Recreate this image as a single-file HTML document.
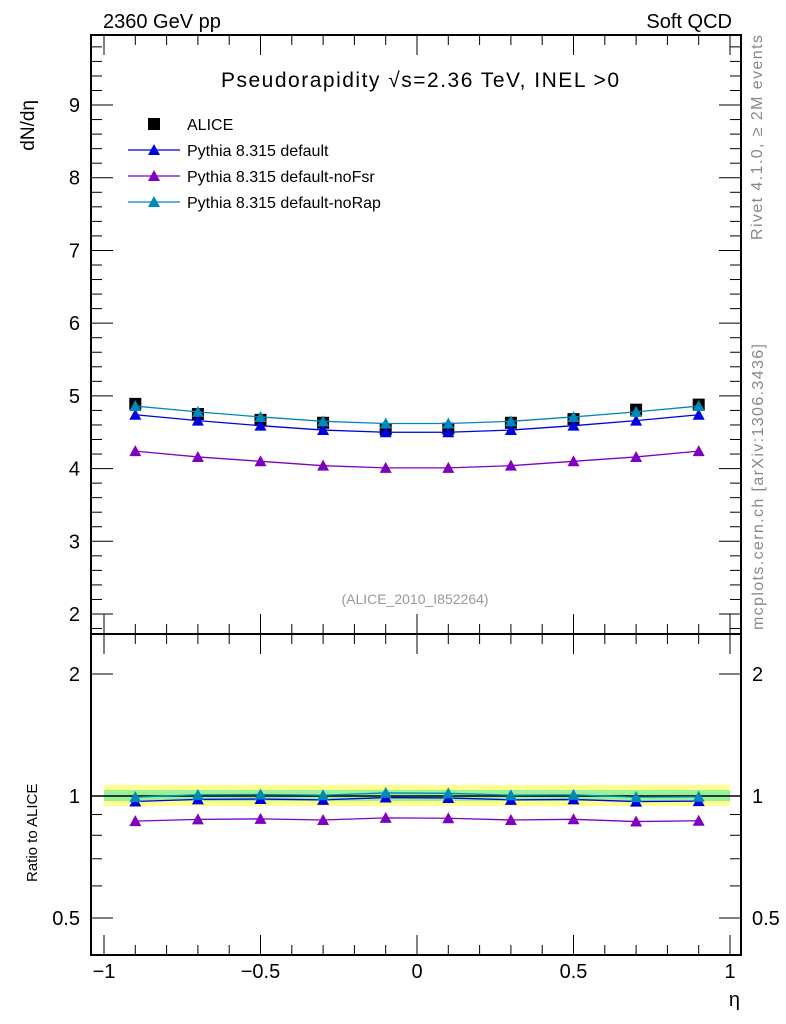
<!DOCTYPE html>
<html><head><meta charset="utf-8"><style>body{margin:0;background:#fff}svg{display:block}text{font-family:"Liberation Sans",sans-serif}</style></head>
<body>
<svg id="s" width="786" height="1024" xmlns="http://www.w3.org/2000/svg">
<rect width="786" height="1024" fill="#fff"/>
<g id="g"></g>
<text x="103" y="28" font-size="20">2360 GeV pp</text>
<text x="732" y="28" font-size="20" text-anchor="end">Soft QCD</text>
<text x="420" y="87" font-size="21" text-anchor="middle" textLength="398">Pseudorapidity √s=2.36 TeV, INEL &gt;0</text>
<text x="415" y="604" font-size="14" fill="#999" text-anchor="middle">(ALICE_2010_I852264)</text>
<text transform="translate(34,100) rotate(-90)" font-size="19" text-anchor="end">dN/dη</text>
<text transform="translate(37,882) rotate(-90)" font-size="15">Ratio to ALICE</text>
<text x="740" y="1006" font-size="20" text-anchor="end">η</text>
<text transform="translate(762,240) rotate(-90)" font-size="16" fill="#888" textLength="205">Rivet 4.1.0, ≥ 2M events</text>
<text transform="translate(763,630) rotate(-90)" font-size="16" fill="#888" textLength="286">mcplots.cern.ch [arXiv:1306.3436]</text>
<text x="187" y="130" font-size="16">ALICE</text>
<text x="187" y="156" font-size="16">Pythia 8.315 default</text>
<text x="187" y="182" font-size="16">Pythia 8.315 default-noFsr</text>
<text x="187" y="208" font-size="16">Pythia 8.315 default-noRap</text>
</svg>
<script>
var g=document.getElementById('g'),h='';
function X(v){return 417+313*v}
function Y(v){return 614-(v-2)*72.71}
function R(r){return 796-122*Math.log2(r)}
var L=91,Rr=741,T=35,M=634,B=955;
var eta=[-0.9,-0.7,-0.5,-0.3,-0.1,0.1,0.3,0.5,0.7,0.9];
var d=[4.89,4.75,4.67,4.63,4.54,4.55,4.63,4.68,4.81,4.88];
var S=[[[4.74,4.66,4.59,4.53,4.50,4.50,4.53,4.59,4.66,4.74],'#0000e0'],
[[4.24,4.16,4.10,4.04,4.01,4.01,4.04,4.10,4.16,4.24],'#8000c0'],
[[4.86,4.78,4.71,4.65,4.62,4.62,4.65,4.71,4.78,4.86],'#0088b8']];
function tri(x,y,c){return '<path d="M'+x+','+(y-6)+'L'+(x+6)+','+(y+5)+'L'+(x-6)+','+(y+5)+'Z" fill="'+c+'"/>'}
h+='<rect x="104" y="785" width="626" height="21" fill="#ffff90"/>';
h+='<rect x="104" y="790" width="626" height="11" fill="#98f098"/>';
h+='<line x1="91" y1="796" x2="741" y2="796" stroke="#000" stroke-width="1.5"/>';
eta.forEach(function(e,i){h+='<rect x="'+(X(e)-6)+'" y="'+(Y(d[i])-6)+'" width="12" height="12" fill="#000"/>'});
S.forEach(function(s){var p=[],q=[];eta.forEach(function(e,i){p.push(X(e)+','+Y(s[0][i]));q.push(X(e)+','+R(s[0][i]/d[i]))});
h+='<polyline points="'+p.join(' ')+'" fill="none" stroke="'+s[1]+'" stroke-width="1.3"/>';
h+='<polyline points="'+q.join(' ')+'" fill="none" stroke="'+s[1]+'" stroke-width="1.3"/>';
eta.forEach(function(e,i){h+=tri(X(e),Y(s[0][i]),s[1])+tri(X(e),R(s[0][i]/d[i]),s[1])});});
h+='<rect x="148" y="118" width="12" height="12" fill="#000"/>';
var ly=[150,176,202];S.forEach(function(s,k){h+='<line x1="128" y1="'+ly[k]+'" x2="180" y2="'+ly[k]+'" stroke="'+s[1]+'" stroke-width="1.3"/>'+tri(154,ly[k],s[1])});
h+='<rect x="91" y="35" width="650" height="920" fill="none" stroke="#000" stroke-width="2"/>';
h+='<line x1="91" y1="634" x2="741" y2="634" stroke="#000" stroke-width="2"/>';
for(var v=1.8;v<=9.95;v+=0.2){var y=Y(v),maj=Math.abs(v-Math.round(v))<0.01,l=maj?22:11;if(y<T||y>M)continue;
h+='<line x1="91" y1="'+y+'" x2="'+(91+l)+'" y2="'+y+'" stroke="#000"/><line x1="741" y1="'+y+'" x2="'+(741-l)+'" y2="'+y+'" stroke="#000"/>';
if(maj&&v>=2)h+='<text x="80" y="'+(y+7)+'" font-size="20" text-anchor="end">'+Math.round(v)+'</text>';}
[0.5,0.6,0.7,0.8,0.9,1,2].forEach(function(r){var y=R(r),maj=(r==0.5||r==1||r==2),l=maj?22:11;
h+='<line x1="91" y1="'+y+'" x2="'+(91+l)+'" y2="'+y+'" stroke="#000"/><line x1="741" y1="'+y+'" x2="'+(741-l)+'" y2="'+y+'" stroke="#000"/>';
if(maj){h+='<text x="80" y="'+(y+7)+'" font-size="20" text-anchor="end">'+r+'</text><text x="752" y="'+(y+7)+'" font-size="20">'+r+'</text>';}});
for(var k=-11;k<=10;k++){var v=k/10,x=X(v);if(x<91||x>741)continue;var maj=(k%5==0),l=maj?20:10;
h+='<line x1="'+x+'" y1="955" x2="'+x+'" y2="'+(955-l)+'" stroke="#000"/><line x1="'+x+'" y1="634" x2="'+x+'" y2="'+(634-l)+'" stroke="#000"/><line x1="'+x+'" y1="35" x2="'+x+'" y2="'+(35+l)+'" stroke="#000"/><line x1="'+x+'" y1="634" x2="'+x+'" y2="'+(634+l)+'" stroke="#000"/>';
if(maj){var t=v==0?'0':(v<0?'−':'')+Math.abs(v);h+='<text x="'+x+'" y="978" font-size="20" text-anchor="middle">'+t+'</text>';}}
g.innerHTML=h;
</script>
</body></html>
